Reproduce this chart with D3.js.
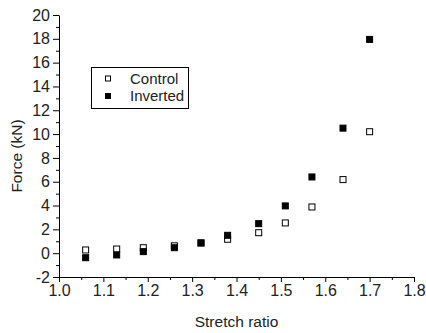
<!DOCTYPE html>
<html>
<head>
<meta charset="utf-8">
<script src="https://cdn.jsdelivr.net/npm/d3@7"></script>
<style>
  body { margin: 0; background: #fff; }
  svg { font-family: "Liberation Sans", Arial, sans-serif; }
  .axis path, .axis line { stroke: #000; stroke-width: 1; }
  .axis text { font-size: 16px; fill: #222; }
</style>
</head>
<body>
<div id="chart"></div>
<script>
'use strict';

var stretch = [1.06, 1.13, 1.19, 1.26, 1.32, 1.38, 1.45, 1.51, 1.57, 1.64, 1.70];
var control = [0.27, 0.35, 0.46, 0.62, 0.86, 1.17, 1.72, 2.54, 3.88, 6.18, 10.2];
var inverted = [-0.38, -0.15, 0.13, 0.46, 0.86, 1.5, 2.48, 3.97, 6.4, 10.5, 17.95];
var xTicks = [1.0, 1.1, 1.2, 1.3, 1.4, 1.5, 1.6, 1.7, 1.8];
var yTicks = [-2, 0, 2, 4, 6, 8, 10, 12, 14, 16, 18, 20];
var seriesNames = ['Control', 'Inverted'];

var width = 426, height = 333;
var margins = { left: 59, right: 12, top: 15, bottom: 56 };
var w = width - margins.left - margins.right;
var h = height - margins.top - margins.bottom;

var svg = d3.select('#chart').append('svg')
  .attr('width', width)
  .attr('height', height);

var xScale = d3.scaleLinear().domain([1.0, 1.8]).range([0, w]);
var yScale = d3.scaleLinear().domain([-2, 20]).range([h, 0]);

var chart = svg.append('g')
  .attr('transform', 'translate(' + margins.left + ',' + margins.top + ')');

// minor ticks
var xMinor = d3.range(1.05, 1.8, 0.1);
var yMinor = d3.range(-1, 20, 2);

chart.append('g')
  .attr('class', 'axis')
  .attr('transform', 'translate(0,' + h + ')')
  .call(d3.axisBottom(xScale).tickValues(xMinor).tickSize(3).tickFormat(''))
  .select('.domain').remove();

chart.append('g')
  .attr('class', 'axis')
  .call(d3.axisLeft(yScale).tickValues(yMinor).tickSize(3).tickFormat(''))
  .select('.domain').remove();

chart.append('g')
  .attr('class', 'axis')
  .attr('transform', 'translate(0,' + h + ')')
  .call(d3.axisBottom(xScale).tickValues(xTicks).tickSize(5).tickSizeOuter(0)
    .tickPadding(3).tickFormat(d3.format('.1f')));

chart.append('g')
  .attr('class', 'axis')
  .call(d3.axisLeft(yScale).tickValues(yTicks).tickSize(6).tickSizeOuter(0)
    .tickPadding(3).tickFormat(function(d) { return d; }));

// axis labels
svg.append('text')
  .attr('x', margins.left + w / 2)
  .attr('y', 327)
  .attr('text-anchor', 'middle')
  .style('font-size', '15.5px')
  .style('fill', '#222')
  .text('Stretch ratio');

svg.append('text')
  .attr('transform', 'translate(22,156) rotate(-90)')
  .attr('text-anchor', 'middle')
  .style('font-size', '15.5px')
  .style('fill', '#222')
  .text('Force (kN)');

// points
var size = 6;
function drawSeries(values, fill) {
  chart.selectAll(null)
    .data(values)
    .enter()
    .append('rect')
    .attr('x', function(d, i) { return xScale(stretch[i]) - size / 2; })
    .attr('y', function(d) { return yScale(d) - size / 2; })
    .attr('width', size)
    .attr('height', size)
    .style('fill', fill)
    .style('stroke', '#000')
    .style('stroke-width', 1);
}
drawSeries(control, '#fff');
drawSeries(inverted, '#000');

// legend
var legend = svg.append('g').attr('transform', 'translate(91.5,67.5)');
legend.append('rect')
  .attr('width', 97)
  .attr('height', 41)
  .style('fill', 'none')
  .style('stroke', '#000');

var rows = legend.selectAll('.legend')
  .data(seriesNames)
  .enter()
  .append('g')
  .attr('class', 'legend')
  .attr('transform', function(d, i) { return 'translate(0,' + (11 + i * 17.5) + ')'; });

rows.append('rect')
  .attr('x', 14)
  .attr('y', -2.5)
  .attr('width', 5)
  .attr('height', 5)
  .style('fill', function(d, i) { return i === 0 ? '#fff' : '#000'; })
  .style('stroke', '#000');

rows.append('text')
  .attr('x', 38.5)
  .attr('dy', '0.36em')
  .style('font-size', '15px')
  .style('fill', '#222')
  .text(function(d) { return d; });
</script>
</body>
</html>
